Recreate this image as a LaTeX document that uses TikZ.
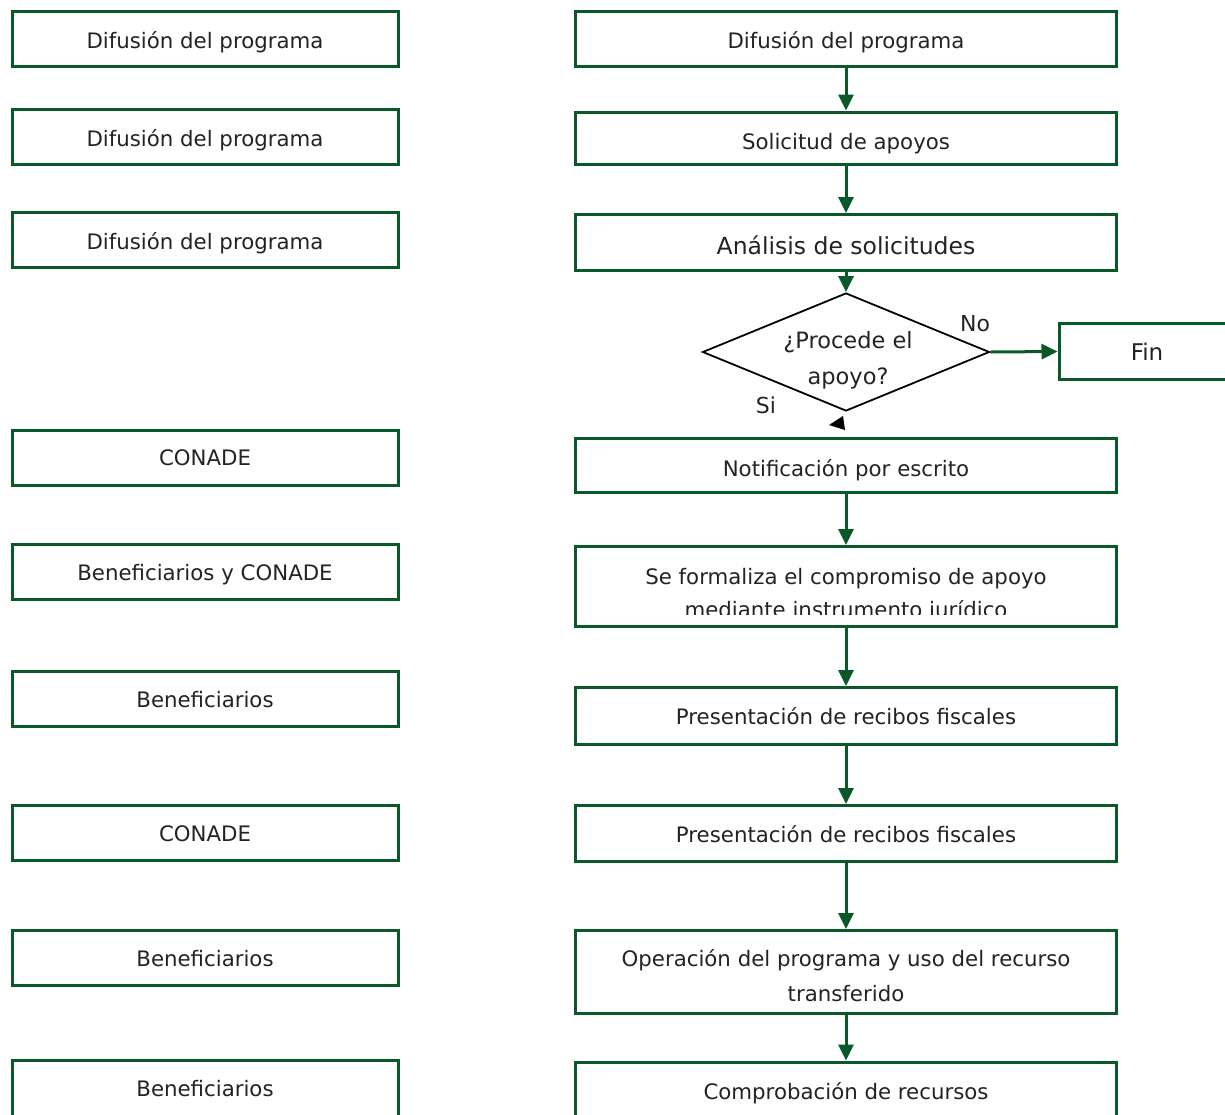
\documentclass[tikz,border=0pt]{standalone}
\usepackage{fontspec}
\setmainfont{DejaVu Sans}
\usetikzlibrary{arrows.meta,shapes.geometric}
\definecolor{dg}{RGB}{8,88,40}
\definecolor{txt}{RGB}{35,35,35}
\begin{document}
\begin{tikzpicture}[x=1pt,y=-1pt,
  box/.style={draw=dg, line width=3pt, fill=white, text=txt, align=center,
    font=\fontsize{21.3}{35}\selectfont, inner sep=0pt},
  bl/.style={text height=#1, text depth=0pt},
  lbox/.style={box, minimum width=386pt, minimum height=55pt},
  rbox/.style={box, minimum width=541pt},
  tnode/.style={text=txt, align=center, inner sep=0pt},
  arr/.style={draw=dg, line width=3pt, -{Triangle[length=16pt,width=15pt]}},
  lab/.style={text=txt, font=\fontsize{22}{26}\selectfont, inner sep=0pt}]
\useasboundingbox (0,0) rectangle (1225,1114);
% left column
\node[lbox, bl=18pt] (l1) at (205,39) {Difusión del programa};
\node[lbox, bl=18pt] (l2) at (205,137) {Difusión del programa};
\node[lbox, bl=18pt] (l3) at (205,240) {Difusión del programa};
\node[lbox, bl=15pt] (l4) at (205,457.5) {CONADE};
\node[lbox, bl=17pt] (l5) at (205,572) {Beneficiarios y CONADE};
\node[lbox, bl=17pt] (l6) at (205,698.5) {Beneficiarios};
\node[lbox, bl=17pt] (l7) at (205,832.5) {CONADE};
\node[lbox, bl=17pt] (l8) at (205,957.5) {Beneficiarios};
\node[lbox, bl=14pt, minimum height=58pt] (l9) at (205,1089) {Beneficiarios};
% right column
\node[rbox, bl=19pt, minimum height=55pt] (r1) at (846,39) {Difusión del programa};
\node[rbox, bl=22pt, minimum height=52pt] (r2) at (846,138) {Solicitud de apoyos};
\node[rbox, bl=23pt, minimum height=56pt, font=\fontsize{23.5}{28}\selectfont] (r3) at (846,242.5) {Análisis de solicitudes};
\node[diamond, draw=black, line width=1.8pt, minimum width=287pt, minimum height=118pt, inner sep=0pt] (d) at (846,352) {};
\node[tnode, font=\fontsize{22.5}{36}\selectfont] (dt) at (848,360.5) {¿Procede el\\apoyo?};
\node[box, bl=18pt, minimum width=176pt, minimum height=56pt, font=\fontsize{23}{27}\selectfont] (fin) at (1147,351.5) {Fin};
\node[rbox, bl=22pt, minimum height=54pt] (r4) at (846,465) {Notificación por escrito};
\node[rbox, minimum height=80pt] (r5) at (846,586.5) {};
\begin{scope}
  \clip (577,548) rectangle (1114,614);
  \node[tnode, font=\fontsize{21.3}{33}\selectfont] (r5t) at (846,595) {Se formaliza el compromiso de apoyo\\mediante instrumento jurídico};
\end{scope}
\node[rbox, bl=17pt, minimum height=57pt] (r6) at (846,716) {Presentación de recibos fiscales};
\node[rbox, bl=17pt, minimum height=56pt] (r7) at (846,833.5) {Presentación de recibos fiscales};
\node[rbox, minimum height=83pt] (r8) at (846,972) {};
\node[tnode, font=\fontsize{21.3}{35}\selectfont] (r8t) at (846,976) {Operación del programa y uso del recurso\\transferido};
\node[rbox, bl=17pt, minimum height=58pt] (r9) at (846,1091) {Comprobación de recursos};
% labels
\node[lab] (no) at (975,324) {No};
\node[lab] (si) at (766,405) {Si};
% connectors
\draw[arr] (r1) -- (r2);
\draw[arr] (r2) -- (r3);
\draw[arr] (r3) -- (d.north);
\draw[arr] (d.east) -- (fin.west);
\fill[black] (829,425) -- (843,416) -- (845,430) -- cycle;
\draw[arr] (r4) -- (r5);
\draw[arr] (r5) -- (r6);
\draw[arr] (r6) -- (r7);
\draw[arr] (r7) -- (r8);
\draw[arr] (r8) -- (r9);
\end{tikzpicture}
\end{document}
